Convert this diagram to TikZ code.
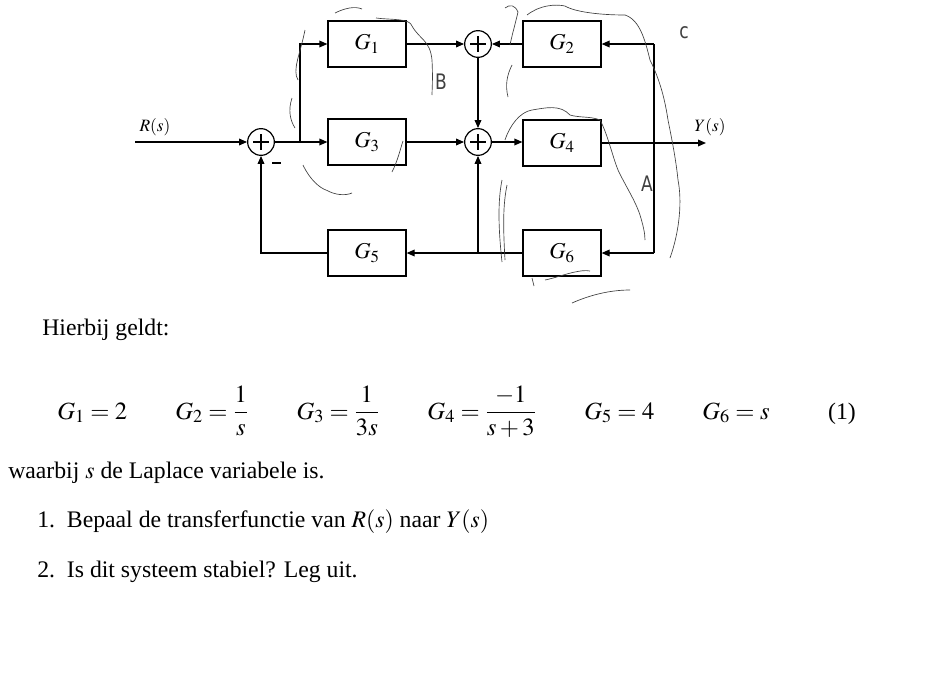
\documentclass[tikz,border=0pt]{standalone}
\usepackage{mathptmx}
\usepackage{fontspec}
\setmainfont{Liberation Serif}
\newfontfamily\handf{DejaVu Sans}[FakeStretch=0.8]
\usetikzlibrary{arrows.meta}
\begin{document}
\begin{tikzpicture}[x=0.75pt,y=-0.75pt,
  blk/.style={draw,line width=0.9pt,minimum width=58.5pt,minimum height=34.5pt,inner sep=0pt,font=\fontsize{17}{20}\selectfont},
  sumc/.style={draw,circle,line width=0.9pt,minimum size=20pt,inner sep=0pt},
  sig/.style={line width=0.9pt,-{Triangle[length=6pt,width=5pt]}},
  ln/.style={line width=0.9pt},
  scr/.style={line width=0.5pt,black!75},
  hnd/.style={font=\handf\fontsize{16}{18}\selectfont,black!75},
  txt/.style={anchor=base west,inner sep=0pt,font=\fontsize{17.8}{20}\selectfont}]
\useasboundingbox (0,0) rectangle (943,675);
\node[blk] (g1) at (367,44) {$G_1$};
\node[blk] (g2) at (562,44) {$G_2$};
\node[blk] (g3) at (367,142) {$G_3$};
\node[blk] (g4) at (562,143) {$G_4$};
\node[blk] (g5) at (367,253) {$G_5$};
\node[blk] (g6) at (562,253) {$G_6$};
\foreach \n/\x/\y in {s1/261/142,s2/478/44,s3/478/142}{
 \node[sumc] (\n) at (\x,\y) {};
 \draw[line width=0.8pt] (\x-8,\y)--(\x+8,\y) (\x,\y-8)--(\x,\y+8);}
\coordinate (rin) at (135,142);
\coordinate (j1) at (300,142);
\coordinate (yout) at (706,143);
\coordinate (j3) at (478,253);
\node[anchor=base,font=\fontsize{13}{15}\selectfont] (rl) at (155,131) {$R(s)$};
\node[anchor=base,font=\fontsize{13}{15}\selectfont] (yl) at (710,131) {$Y(s)$};
\draw[line width=1.3pt] (272,163) -- (281,163);
\draw[sig] (rin) -- (s1);
\draw[ln] (s1) -- (j1);
\draw[sig] (j1) -- (g3);
\draw[sig] (j1) |- (g1);
\draw[sig] (g1) -- (s2);
\draw[sig] (g2) -- (s2);
\draw[sig] (s2) -- (s3);
\draw[sig] (g3) -- (s3.west);
\draw[sig] (s3) -- (g4.west |- s3);
\draw[sig] (g4) -- (yout);
\draw[sig] (654,44) -- (g2.east);
\draw[ln] (654,44) -- (654,253);
\draw[sig] (654,253) -- (g6.east);
\draw[sig] (g6) -- (g5);
\draw[sig] (j3) -- (s3);
\draw[sig] (g5.west) -| (s1);
% scribbles
\draw[scr] (335,13) .. controls (345,8) and (355,6) .. (362,9);
\draw[scr] (376,18) .. controls (390,20) and (410,18) .. (412,26) .. controls (420,40) and (430,40) .. (432,60) .. controls (433,80) and (432,90) .. (432,95);
\draw[scr] (298,80) .. controls (292,70) and (300,55) .. (305,30);
\draw[scr] (292,98) .. controls (288,110) and (290,120) .. (295,128);
\draw[scr] (303,165) .. controls (310,180) and (320,188) .. (326,190) .. controls (335,195) and (345,196) .. (352,193);
\draw[scr] (392,172) .. controls (398,160) and (400,150) .. (403,141);
\draw[scr] (505,8) .. controls (510,4) and (515,5) .. (518,12) .. controls (515,25) and (512,35) .. (510,45);
\draw[scr] (508,97) .. controls (505,85) and (507,75) .. (512,65);
\draw[scr] (527,15) .. controls (540,5) and (555,4) .. (565,6) .. controls (575,12) and (600,15) .. (625,15) .. controls (640,20) and (645,40) .. (650,60) .. controls (660,80) and (665,100) .. (668,120) .. controls (672,140) and (676,160) .. (678,180) .. controls (682,200) and (680,230) .. (670,258);
\draw[scr] (505,140) .. controls (510,125) and (520,112) .. (532,110) .. controls (545,108) and (560,104) .. (570,115) .. controls (580,118) and (590,116) .. (600,120) .. controls (608,135) and (612,155) .. (618,170) .. controls (625,185) and (635,200) .. (640,215) .. controls (643,225) and (645,233) .. (645,240);
\draw[scr] (502,180) .. controls (498,200) and (498,225) .. (502,262);
\draw[scr] (507,185) .. controls (503,205) and (503,225) .. (505,260);
\draw[scr] (545,280) .. controls (555,278) and (565,274) .. (575,272) .. controls (580,271) and (585,270) .. (590,271);
\draw[scr] (572,303) .. controls (590,295) and (610,290) .. (630,290);
\draw[scr] (532,278) -- (534,286);
\node[hnd] (lb) at (441,82) {B};
\node[hnd] (lc) at (684,33) {c};
\node[hnd] (la) at (647,184) {A};
% text
\node[txt] (t1) at (42,335) {Hierbij geldt:};
\node[anchor=base west,font=\fontsize{18.5}{22}\selectfont,inner sep=0pt] (eq) at (57,419)
 {$\displaystyle G_1=2\hspace{36pt}G_2=\frac{1}{s}\hspace{36pt}G_3=\frac{1}{3s}\hspace{36pt}G_4=\frac{-1}{s+3}\hspace{36pt}G_5=4\hspace{36pt}G_6=s$};
\node[anchor=base,font=\fontsize{17.8}{20}\selectfont] (en) at (842,419) {(1)};
\node[txt] (t2) at (8,478) {waarbij $s$ de Laplace variabele is.};
\node[txt] (t3) at (37,527) {1.\ \ Bepaal de transferfunctie van $R(s)$ naar $Y(s)$};
\node[txt] (t4) at (37,577) {2.\ \ Is dit systeem stabiel? Leg uit.};
\end{tikzpicture}
\end{document}
